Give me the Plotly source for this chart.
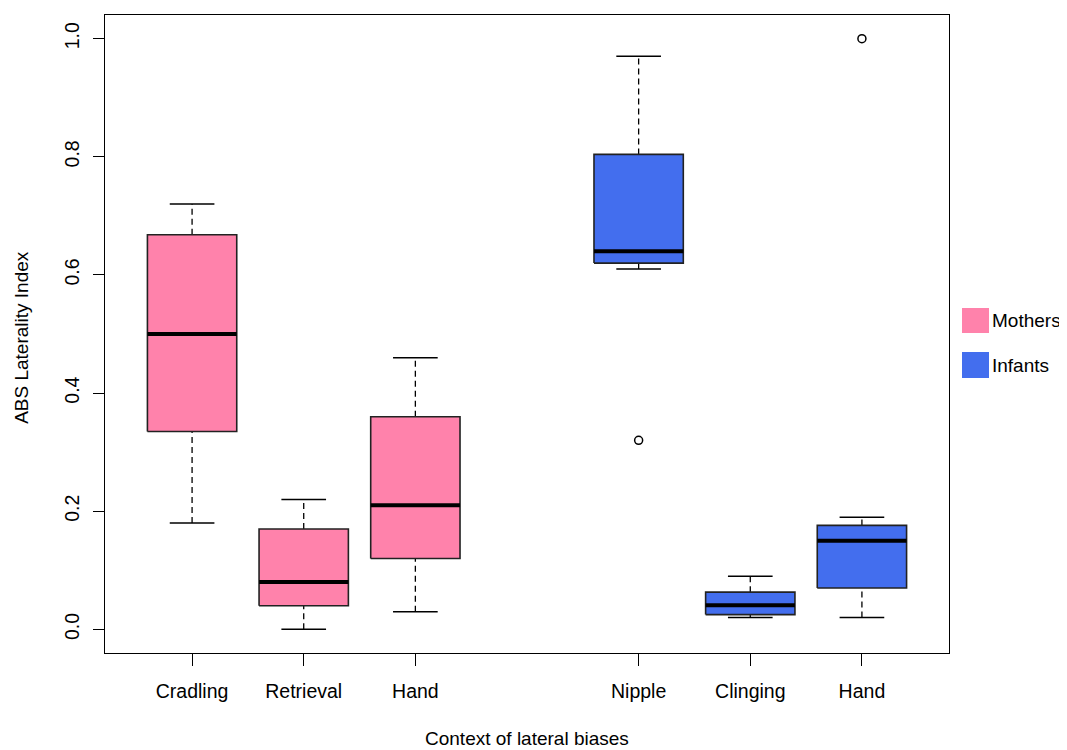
import plotly.graph_objects as go

# ---- data ----
categories = ["Cradling", "Retrieval", "Hand", "Nipple", "Clinging", "Hand"]
groups = ["Mothers", "Mothers", "Mothers", "Infants", "Infants", "Infants"]
positions = [1, 2, 3, 5, 6, 7]
whisker_low = [0.18, 0.00, 0.03, 0.61, 0.02, 0.02]
q1 = [0.335, 0.04, 0.12, 0.62, 0.025, 0.07]
median = [0.50, 0.08, 0.21, 0.64, 0.041, 0.15]
q3 = [0.668, 0.17, 0.36, 0.804, 0.063, 0.176]
whisker_high = [0.72, 0.22, 0.46, 0.97, 0.09, 0.19]
outlier_pos = [5, 7]
outlier_val = [0.32, 1.00]
y_ticks = [0.0, 0.2, 0.4, 0.6, 0.8, 1.0]
y_ticklabels = ["0.0", "0.2", "0.4", "0.6", "0.8", "1.0"]

colors = {"Mothers": "#FF82AB", "Infants": "#436EEE"}
FONT = "Liberation Sans, Arial, sans-serif"
BOXW = 0.4
CAPW = 0.2

fig = go.Figure()

# whiskers (dashed)
wx, wy = [], []
for p, lo, a, b, hi in zip(positions, whisker_low, q1, q3, whisker_high):
    wx += [p, p, None, p, p, None]
    wy += [lo, a, None, b, hi, None]
fig.add_trace(go.Scatter(x=wx, y=wy, mode="lines", showlegend=False, hoverinfo="skip",
                         line=dict(color="black", width=1.3, dash="6px,4px")))

# caps
cx, cy = [], []
for p, lo, hi in zip(positions, whisker_low, whisker_high):
    cx += [p - CAPW, p + CAPW, None, p - CAPW, p + CAPW, None]
    cy += [lo, lo, None, hi, hi, None]
fig.add_trace(go.Scatter(x=cx, y=cy, mode="lines", showlegend=False, hoverinfo="skip",
                         line=dict(color="black", width=1.5)))

# boxes
for g in ["Mothers", "Infants"]:
    bx, by = [], []
    for p, a, b, gg in zip(positions, q1, q3, groups):
        if gg != g:
            continue
        bx += [p - BOXW, p + BOXW, p + BOXW, p - BOXW, p - BOXW, None]
        by += [a, a, b, b, a, None]
    fig.add_trace(go.Scatter(x=bx, y=by, mode="lines", fill="toself", fillcolor=colors[g],
                             showlegend=False, hoverinfo="skip",
                             line=dict(color="#222222", width=1.6)))

# medians
mx, my = [], []
for p, m in zip(positions, median):
    mx += [p - BOXW, p + BOXW, None]
    my += [m, m, None]
fig.add_trace(go.Scatter(x=mx, y=my, mode="lines", showlegend=False, hoverinfo="skip",
                         line=dict(color="black", width=4)))

# outliers
fig.add_trace(go.Scatter(x=outlier_pos, y=outlier_val, mode="markers", showlegend=False,
                         marker=dict(symbol="circle-open", size=8, color="black",
                                     line=dict(width=1.5))))

# legend drawn manually
legend_items = [("Mothers", 0.5408, 0.5016), ("Infants", 0.4718, 0.4310)]
for name, top, bot in legend_items:
    fig.add_shape(type="rect", xref="paper", yref="paper", x0=1.0154, x1=1.0474,
                  y0=bot, y1=top, fillcolor=colors[name], line=dict(width=0))
    fig.add_annotation(xref="paper", yref="paper", x=1.0480, y=(top + bot) / 2,
                       text=name, showarrow=False, xanchor="left", yanchor="middle",
                       font=dict(family=FONT, size=19, color="black"))

# axis titles
fig.add_annotation(xref="paper", yref="paper", x=0.5, y=-0.134, text="Context of lateral biases",
                   showarrow=False, xanchor="center", yanchor="middle", borderpad=0,
                   font=dict(family=FONT, size=19, color="black"))
fig.add_annotation(xref="paper", yref="paper", x=-0.0983, y=0.494, text="ABS Laterality Index",
                   showarrow=False, xanchor="center", yanchor="middle", textangle=-90,
                   font=dict(family=FONT, size=19, color="black"))

fig.update_layout(
    width=1059, height=742,
    margin=dict(l=97, r=118, t=7, b=97),
    plot_bgcolor="white", paper_bgcolor="white",
    font=dict(family=FONT, size=19.5, color="black"),
    showlegend=False,
    xaxis=dict(range=[0.22, 7.78], tickvals=positions, ticktext=categories,
               showgrid=False, zeroline=False, showline=True, mirror=True,
               linecolor="black", linewidth=1.3, ticks="outside", ticklen=12,
               tickwidth=1.3, tickcolor="black", ticklabelstandoff=8,
               tickfont=dict(family=FONT, size=19.5, color="black")),
    yaxis=dict(range=[-0.04, 1.04], tickvals=y_ticks, ticktext=y_ticklabels,
               showgrid=False, zeroline=False, showline=True, mirror=True,
               linecolor="black", linewidth=1.3, ticks="outside", ticklen=11,
               tickwidth=1.3, tickcolor="black", tickangle=-90, ticklabelstandoff=6,
               tickfont=dict(family=FONT, size=19.5, color="black")),
)

fig.write_html("out.html")
